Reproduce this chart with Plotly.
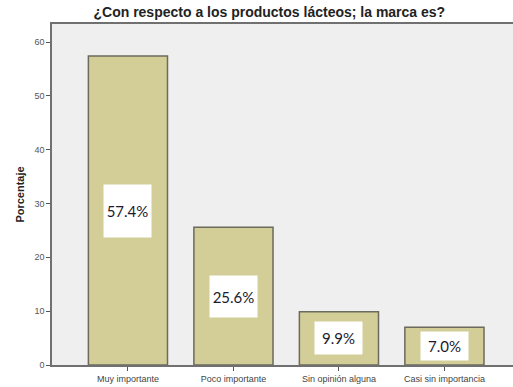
import plotly.graph_objects as go

# Survey responses: importance of brand for dairy products
categorias = ["Muy importante", "Poco importante", "Sin opinión alguna", "Casi sin importancia"]
porcentajes = [57.4, 25.6, 9.9, 7.0]
etiquetas = ["57.4%", "25.6%", "9.9%", "7.0%"]
y_ticks = [0, 10, 20, 30, 40, 50, 60]

# height (px) of the white label boxes
alto_caja = [50, 39, 30, 26]

x_pos = list(range(len(categorias)))

fig = go.Figure(
    go.Bar(
        x=x_pos,
        y=porcentajes,
        width=0.75,
        marker=dict(color="#d3ce97", line=dict(color="#6b6a5c", width=1.5)),
        hoverinfo="skip",
    )
)

for xi, v, t, h in zip(x_pos, porcentajes, etiquetas, alto_caja):
    fig.add_annotation(
        x=xi, y=v / 2, text=t, showarrow=False,
        font=dict(family="Lato, Carlito, sans-serif", size=15, color="#1a1a2e"),
        bgcolor="white", width=45, height=h,
        xanchor="center", yanchor="middle",
    )

axis_color = "#707070"
fig.update_layout(
    width=513, height=387,
    margin=dict(l=52, r=0, t=24, b=22),
    paper_bgcolor="white",
    plot_bgcolor="#efefef",
    showlegend=False,
    title=dict(
        text="<b>¿Con respecto a los productos lácteos; la marca es?</b>",
        x=0.525, xanchor="center", y=0.968, yanchor="middle",
        font=dict(family="Liberation Sans, Arial, sans-serif", size=14, color="#222"),
    ),
    xaxis=dict(
        range=[-0.72, 3.65],
        tickmode="array", tickvals=x_pos, ticktext=categorias,
        ticks="outside", ticklen=4, tickcolor="#555", tickwidth=1,
        showline=True, linecolor=axis_color, linewidth=1.5, mirror=True,
        showgrid=False, zeroline=False,
        tickfont=dict(family="Liberation Sans, Arial, sans-serif", size=9, color="#444"),
    ),
    yaxis=dict(
        range=[0, 63.35],
        tickmode="array", tickvals=y_ticks,
        ticks="outside", ticklen=4, tickcolor="#555", tickwidth=1,
        showline=True, linecolor=axis_color, linewidth=1.5,
        showgrid=False, zeroline=False,
        tickfont=dict(family="Liberation Sans, Arial, sans-serif", size=9, color="#555"),
        title=dict(
            text="<b>Porcentaje</b>", standoff=8,
            font=dict(family="Liberation Sans, Arial, sans-serif", size=11, color="#222"),
        ),
    ),
)

fig.write_html("out.html")
